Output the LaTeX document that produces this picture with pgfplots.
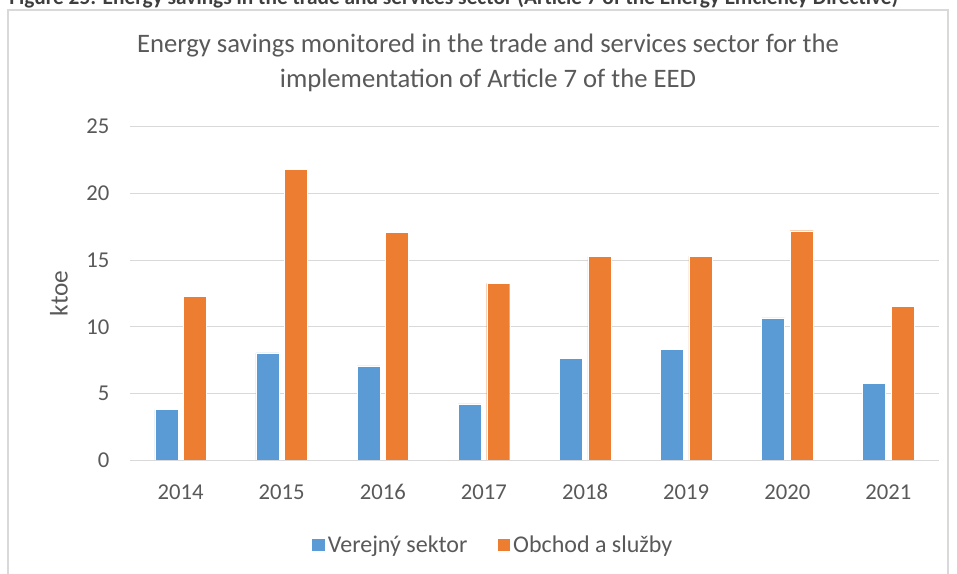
\documentclass[border=0pt]{standalone}
\usepackage{pgfplots}
\pgfplotsset{compat=1.18}
\usepackage{fontspec}
\setmainfont{Carlito}
\definecolor{txt}{HTML}{595959}
\definecolor{gridc}{HTML}{D9D9D9}
\definecolor{frame}{HTML}{D9D9D9}
\definecolor{cblue}{HTML}{5B9BD5}
\definecolor{corange}{HTML}{ED7D31}
\begin{document}
\begin{tikzpicture}[x=0.75pt,y=0.75pt]
\useasboundingbox (0,0) rectangle (957,574);
% clipped caption
\node[anchor=base west, inner sep=0pt, font=\bfseries\fontsize{16}{18}\selectfont, text=txt!70!black] at (9,574-5) {Figure 25: Energy savings in the trade and services sector (Article 7 of the Energy Efficiency Directive)};
\draw[frame, line width=0.9pt] (8,-10) -- (8,574-10) -- (948,574-10) -- (948,-10);
\node[align=center, text=txt, font=\fontsize{20}{26}\selectfont] at (488,574-63) {Energy savings monitored in the trade and services sector for the\\implementation of Article 7 of the EED};
\begin{axis}[
  at={(97.5pt,85.3pt)}, anchor=south west,
  scale only axis, width=606.75pt, height=250.2pt,
  ybar, bar width=17.25pt,
  xmin=-0.5, xmax=7.5, ymin=0, ymax=25,
  xtick={0,1,2,3,4,5,6,7},
  xticklabels={2014,2015,2016,2017,2018,2019,2020,2021},
  ytick={0,5,10,15,20,25},
  major tick length=0pt,
  axis line style={draw=none},
  ymajorgrids, grid style={gridc, line width=0.75pt},
  tick label style={text=txt, font=\fontsize{17}{20}\selectfont},
  /pgf/number format/assume math mode=true,
  xticklabel style={anchor=base, yshift=-29.8pt},
  yticklabel style={xshift=-12pt},
  ylabel={ktoe},
  every axis y label/.style={at={(axis description cs:-0.0878,0.5)}, rotate=90, anchor=center},
  ylabel style={text=txt, font=\fontsize{19}{22}\selectfont},
  legend style={at={(0.449,-0.254)}, anchor=center, draw=none, fill=none,
    legend columns=2, font=\fontsize{18}{21}\selectfont, text=txt,
    /tikz/every even column/.append style={column sep=20pt}},
  legend image code/.code={\fill[#1] (0pt,-5pt) rectangle (10pt,5pt);},
]
\addplot[fill=cblue, draw=white, line width=0.3pt, bar shift=-10.7pt] coordinates {(0,3.81) (1,8.05) (2,7.08) (3,4.23) (4,7.63) (5,8.32) (6,10.67) (7,5.78)};
\addplot[fill=corange, draw=white, line width=0.3pt, bar shift=10.7pt] coordinates {(0,12.29) (1,21.79) (2,17.08) (3,13.26) (4,15.26) (5,15.30) (6,17.20) (7,11.54)};
\draw[gridc, line width=0.75pt] (axis cs:-0.5,0) -- (axis cs:7.5,0);
\legend{Verejný sektor, Obchod a služby}
\end{axis}
\end{tikzpicture}
\end{document}
